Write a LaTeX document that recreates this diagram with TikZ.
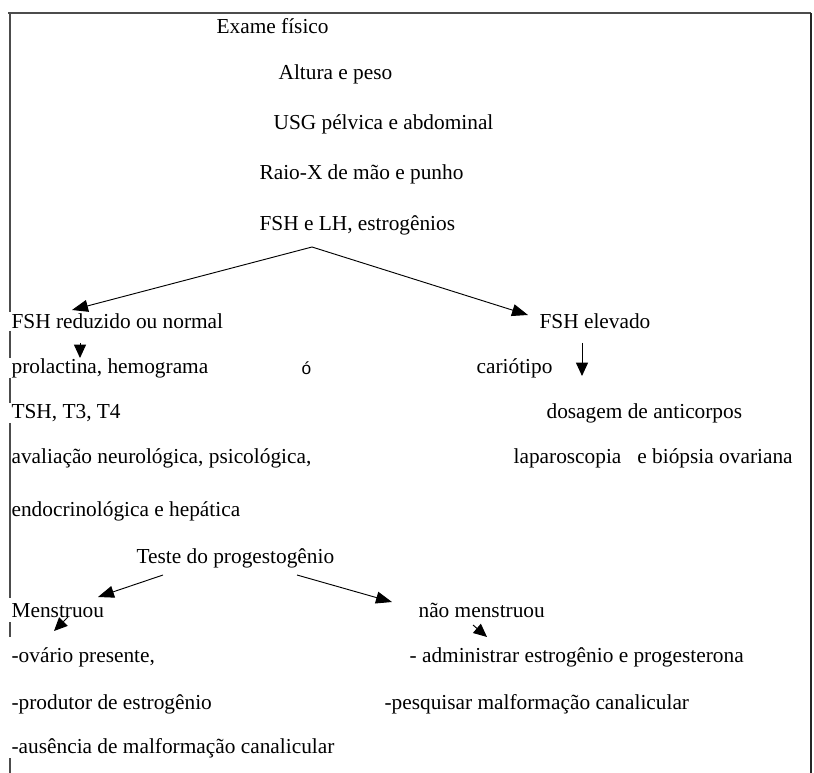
\documentclass[tikz,border=0pt]{standalone}
\usepackage{fontspec}
\setmainfont{Liberation Serif}
\newfontfamily\marksans{Liberation Sans}
\usetikzlibrary{positioning,arrows.meta}

\begin{document}
\begin{tikzpicture}[x=0.75pt,y=-0.75pt,
  txt/.style={anchor=west,inner sep=1pt,font=\fontsize{16}{19}\selectfont},
  line/.style={-{Triangle[length=12pt,width=9pt]},line width=0.7pt},
  stub/.style={-{Triangle[length=10pt,width=9pt]},line width=0.7pt},
  frame/.style={line width=0.8pt,black!70}]
\useasboundingbox (0,0) rectangle (814,773);
% frame
\draw[frame] (8,13) -- (811,13);
\draw[line width=1.1pt,black!85] (811,13) -- (811,773);
\draw[frame] (10,13) -- (10,312) (10,331) -- (10,358) (10,378) -- (10,403)
  (10,423) -- (10,598) (10,622) -- (10,637) (10,758) -- (10,773);
% exams
\node[txt] (exame) at (215,26) {Exame físico};
\node[txt] (altura) at (277,74) {Altura e peso};
\node[txt] (usg) at (272,124) {USG pélvica e abdominal};
\node[txt] (raio) at (258,174) {Raio-X de mão e punho};
\node[txt] (lh) at (258,225) {FSH e LH, estrogênios};
% branches
\node[txt] (red) at (10,321) {FSH reduzido ou normal};
\node[txt] (elev) at (538,321) {FSH elevado};
\node[txt] (prol) at (10,368) {prolactina, hemograma};
\node[txt,font=\marksans\fontsize{13}{15}\selectfont] (mark) at (300,368) {ó};
\node[txt] (cario) at (475,368) {cariótipo};
\node[txt] (tsh) at (10,413) {TSH, T3, T4};
\node[txt] (dos) at (545,413) {dosagem de anticorpos};
\node[txt] (aval) at (10,458) {avaliação neurológica, psicológica,};
\node[txt] (lap) at (512,458) {laparoscopia\hspace{12pt}e biópsia ovariana};
\node[txt] (endo) at (10,511) {endocrinológica e hepática};
% progestogen test
\node[txt] (teste) at (135,558) {Teste do progestogênio};
\node[txt] (menst) at (10,611) {Menstruou};
\node[txt] (naomen) at (417,610) {não menstruou};
\node[txt] (ovar) at (10,657) {-ovário presente,};
\node[txt] (adm) at (408,657) {- administrar estrogênio e progesterona};
\node[txt] (prod) at (10,704) {-produtor de estrogênio};
\node[txt] (pesq) at (383,704) {-pesquisar malformação canalicular};
\node[txt] (aus) at (10,748) {-ausência de malformação canalicular};
% arrows
\coordinate (fork) at (312,247);
\coordinate (redtip) at (72,310);
\coordinate (elevtip) at (528,315);
\draw[line] (fork) -- (redtip);
\draw[line] (fork) -- (elevtip);
\coordinate (reda) at (80,343);
\coordinate (redb) at (80,358);
\draw[stub] (reda) -- (redb);
\coordinate (carioa) at (582,343);
\coordinate (cariob) at (582,376);
\draw[stub] (carioa) -- (cariob);
\coordinate (testel) at (163,575);
\coordinate (tester) at (297,575);
\coordinate (mensttip) at (98,597);
\coordinate (naotip) at (392,602);
\draw[line] (testel) -- (mensttip);
\draw[line] (tester) -- (naotip);
\coordinate (mensta) at (68,617);
\coordinate (menstb) at (54,631);
\draw[stub] (mensta) -- (menstb);
\coordinate (naoa) at (473,625);
\coordinate (naob) at (487,637);
\draw[stub] (naoa) -- (naob);
\end{tikzpicture}
\end{document}
